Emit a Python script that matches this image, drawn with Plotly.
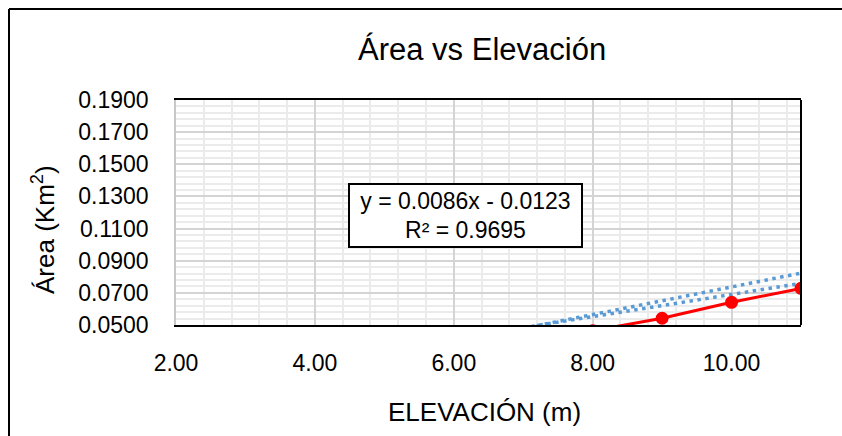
import plotly.graph_objects as go

# ---- data ----
elevacion = [8.0, 9.0, 10.0, 11.0]
area = [0.0464, 0.0542, 0.0641, 0.0728]

# linear trendline shown on chart: y = 0.0086x - 0.0123, R² = 0.9695
trend_slope = 0.0086
trend_intercept = -0.0123
trend_r2 = 0.9695
# second dotted trendline
trend2_slope = 0.0069
trend2_intercept = 0.0
trend_x = [2.0, 11.0]

x_range = [2, 11]
y_range = [0.05, 0.19]

FONT = "Liberation Sans, Arial, sans-serif"
W, H = 842, 436
L, R, T, B = 176, 41, 100, 111
pw, ph = W - L - R, H - T - B


def px_to_paper_x(px):
    return (px - L) / pw


def px_to_paper_y(py):
    return (H - B - py) / ph


fig = go.Figure()

dot_line = dict(color="#5B9BD5", width=3.5, dash="3.5px,4.5px")
fig.add_trace(go.Scatter(
    x=trend_x, y=[trend2_slope * v + trend2_intercept for v in trend_x],
    mode="lines", line=dot_line, showlegend=False, hoverinfo="skip"))
fig.add_trace(go.Scatter(
    x=trend_x, y=[trend_slope * v + trend_intercept for v in trend_x],
    mode="lines", line=dot_line, showlegend=False, hoverinfo="skip"))
fig.add_trace(go.Scatter(
    x=elevacion, y=area, mode="lines+markers",
    line=dict(color="#FF0000", width=3),
    marker=dict(color="#FF0000", size=13),
    showlegend=False))

fig.update_layout(
    width=W, height=H,
    margin=dict(l=L, r=R, t=T, b=B, pad=0),
    paper_bgcolor="white", plot_bgcolor="white",
    font=dict(family=FONT, size=23, color="#000000"),
    showlegend=False,
)

fig.update_xaxes(
    range=x_range, tick0=2, dtick=2, tickformat=".2f",
    showgrid=True, gridcolor="#D4D4D4", gridwidth=1.5,
    minor=dict(dtick=0.4, tick0=2, showgrid=True, gridcolor="#EBEBEB", gridwidth=1.5),
    showline=True, linecolor="#000000", linewidth=2, mirror=True,
    ticks="", ticklabelstandoff=16, zeroline=False,
    tickfont=dict(family=FONT, size=23, color="#000000"),
)
fig.update_yaxes(
    range=y_range, tick0=0.05, dtick=0.02, tickformat=".4f",
    showgrid=True, gridcolor="#D4D4D4", gridwidth=1.5,
    minor=dict(dtick=0.004, tick0=0.05, showgrid=True, gridcolor="#EBEBEB", gridwidth=1.5),
    showline=True, linecolor="#C8C8C8", linewidth=1.5,
    ticks="", ticklabelstandoff=21, zeroline=False,
    tickfont=dict(family=FONT, size=23, color="#000000"),
)

shapes = [
    # right border of plot area
    dict(type="line", xref="paper", yref="paper", x0=1, x1=1, y0=0, y1=1,
         line=dict(color="#000000", width=2)),
    # outer chart border (only left and top edges are inside the window)
    dict(type="line", xref="paper", yref="paper",
         x0=px_to_paper_x(9), x1=px_to_paper_x(9),
         y0=px_to_paper_y(436), y1=px_to_paper_y(9),
         line=dict(color="#000000", width=2), layer="above"),
    dict(type="line", xref="paper", yref="paper",
         x0=px_to_paper_x(9), x1=px_to_paper_x(842),
         y0=px_to_paper_y(9), y1=px_to_paper_y(9),
         line=dict(color="#000000", width=2), layer="above"),
]
fig.update_layout(shapes=shapes)

annotations = [
    dict(text="Área vs Elevación", xref="paper", yref="paper",
         x=px_to_paper_x(482), y=px_to_paper_y(50), xanchor="center", yanchor="middle",
         showarrow=False, font=dict(family=FONT, size=31, color="#000000")),
    dict(text="ELEVACIÓN (m)", xref="paper", yref="paper",
         x=px_to_paper_x(484), y=px_to_paper_y(412), xanchor="center", yanchor="middle",
         showarrow=False, font=dict(family=FONT, size=26, color="#000000")),
    dict(text="Área (Km<sup>2</sup>)", xref="paper", yref="paper",
         x=px_to_paper_x(43), y=px_to_paper_y(230), xanchor="center", yanchor="middle",
         textangle=-90,
         showarrow=False, font=dict(family=FONT, size=26, color="#000000")),
    dict(text=f"y = {trend_slope:.4f}x - {abs(trend_intercept):.4f}<br>R² = {trend_r2:.4f}",
         xref="paper", yref="paper",
         x=px_to_paper_x(465), y=px_to_paper_y(215), xanchor="center", yanchor="middle",
         showarrow=False, align="center", width=227, height=57,
         bgcolor="white", bordercolor="#000000", borderwidth=2, borderpad=2,
         font=dict(family=FONT, size=23, color="#000000")),
]
fig.update_layout(annotations=annotations)

fig.write_html("out.html")
